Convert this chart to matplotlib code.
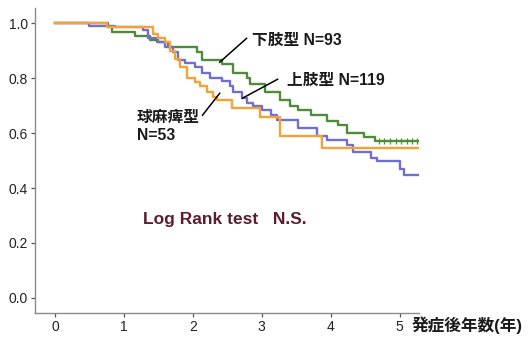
import matplotlib
matplotlib.use("Agg")
import matplotlib.pyplot as plt

plt.rcParams['font.family'] = ['Liberation Sans', 'Noto Sans CJK JP', 'DejaVu Sans']

# Kaplan-Meier step data (years, survival)
lower_t = [0, 0.77, 0.83, 1.16, 1.38, 1.48, 1.64, 2.06, 2.14, 2.42, 2.58, 2.78, 2.83,
           3.04, 3.26, 3.41, 3.52, 3.72, 3.94, 4.10, 4.23, 4.49, 4.64, 5.26]
lower_s = [1.0, 0.985, 0.967, 0.953, 0.94, 0.93, 0.913, 0.895, 0.865, 0.85, 0.82, 0.80, 0.78,
           0.75, 0.72, 0.70, 0.685, 0.665, 0.645, 0.63, 0.60, 0.585, 0.57, 0.57]

upper_t = [0, 0.5, 0.87, 1.28, 1.35, 1.49, 1.59, 1.71, 1.78, 1.88, 2.03, 2.13, 2.25, 2.42,
           2.54, 2.58, 2.71, 2.78, 2.87, 3.01, 3.14, 3.22, 3.52, 3.80, 3.94, 4.23, 4.32,
           4.59, 4.67, 5.0, 5.07, 5.26]
upper_s = [1.0, 0.99, 0.985, 0.975, 0.945, 0.93, 0.915, 0.895, 0.865, 0.855, 0.84, 0.82, 0.80, 0.79,
           0.77, 0.75, 0.727, 0.71, 0.70, 0.685, 0.665, 0.647, 0.62, 0.59, 0.575, 0.556, 0.53,
           0.51, 0.50, 0.47, 0.447, 0.447]

bulbar_t = [0, 0.75, 1.42, 1.49, 1.59, 1.67, 1.74, 1.81, 1.91, 2.03, 2.10, 2.20, 2.29, 2.35,
            2.57, 2.97, 3.26, 3.88, 5.26]
bulbar_s = [1.0, 0.985, 0.96, 0.945, 0.93, 0.90, 0.87, 0.84, 0.80, 0.785, 0.77, 0.75, 0.73, 0.72,
            0.69, 0.66, 0.59, 0.545, 0.545]

# censor marks on the final plateau of 下肢型
lower_cens_t = [4.70, 4.78, 4.86, 4.94, 5.02, 5.10, 5.18, 5.25]
lower_cens_s = [0.57] * len(lower_cens_t)

xticks = [0, 1, 2, 3, 4, 5]
yticks = [0.0, 0.2, 0.4, 0.6, 0.8, 1.0]

green = '#4e8c3c'
blue = '#6f6fd0'
orange = '#f5a133'

fig = plt.figure(figsize=(5.29, 3.38), dpi=100)
ax = fig.add_axes([0.066, 0.074, 0.726, 0.902])

ax.step(lower_t, lower_s, where='post', color=green, lw=1.7)
ax.step(upper_t, upper_s, where='post', color=blue, lw=1.7)
ax.step(bulbar_t, bulbar_s, where='post', color=orange, lw=1.7)
ax.plot(lower_cens_t, lower_cens_s, ls='none', marker='|', ms=4, mew=0.9, color=green)

ax.set_xlim(-0.29, 5.28)
ax.set_ylim(-0.055, 1.055)
ax.set_xticks(xticks)
ax.set_xticklabels([str(v) for v in xticks])
ax.set_yticks(yticks)
ax.set_yticklabels([f'{v:.1f}' for v in yticks])

for s in ['top', 'right']:
    ax.spines[s].set_visible(False)
for s in ['left', 'bottom']:
    ax.spines[s].set_color('#8a8a8a')
    ax.spines[s].set_linewidth(1.0)
ax.tick_params(axis='both', direction='out', length=3, width=0.9, color='#555555',
               labelsize=10, labelcolor='#222222', pad=2)

bold = dict(fontsize=11.3, fontweight='bold', color='#1a1a1a')
ax.text(2.86, 0.938, '下肢型 N=93', va='center', ha='left', **bold)
ax.plot([2.78, 2.39], [0.945, 0.858], color='black', lw=1.1)
ax.text(3.36, 0.793, '上肢型 N=119', va='center', ha='left', **bold)
ax.plot([3.23, 2.72], [0.796, 0.727], color='black', lw=1.1)
ax.text(1.19, 0.658, '球麻痺型', va='center', ha='left', **bold)
ax.text(1.19, 0.593, 'N=53', va='center', ha='left', **bold)
ax.plot([2.14, 2.39], [0.665, 0.745], color='black', lw=1.1)

ax.text(1.28, 0.284, 'Log Rank test   N.S.', va='center', ha='left',
        fontsize=12.5, fontweight='bold', color='#5a1f2b')

fig.text(0.779, 0.038, '発症後年数(年)', va='center', ha='left',
         fontsize=12, fontweight='bold', color='#1a1a1a')

fig.savefig('out.png', dpi=100)
